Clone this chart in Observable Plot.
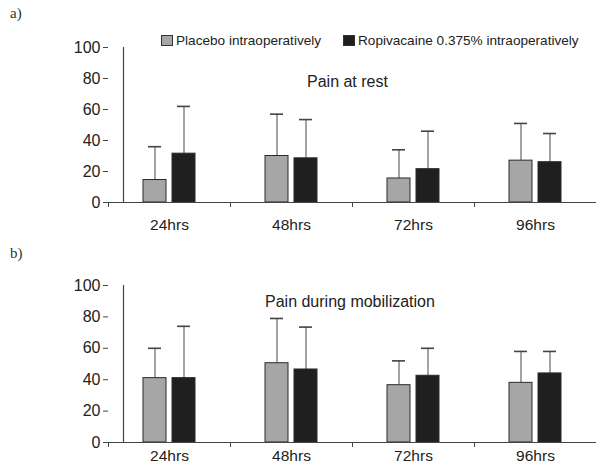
<!DOCTYPE html>
<html>
<head>
<meta charset="utf-8">
<script src="https://cdn.jsdelivr.net/npm/d3@7"></script>
<script src="https://cdn.jsdelivr.net/npm/@observablehq/plot@0.6"></script>
<style>
  body { margin: 0; background: #fff; }
  #wrap { position: relative; width: 599px; height: 469px; overflow: hidden; font-family: "Liberation Sans", Arial, sans-serif; color: #222; }
  .panel { position: absolute; left: 0; }
  .lbl { position: absolute; font-family: "Liberation Serif", "Times New Roman", serif; font-size: 15px; color: #333; }
  .title { position: absolute; font-size: 16px; color: #222; white-space: nowrap; }
  .legend { position: absolute; top: 33px; left: 161px; font-size: 13.6px; color: #222; white-space: nowrap; }
  .legend span.item { position: absolute; top: 0; white-space: nowrap; }
  .sw { display: inline-block; width: 10px; height: 9px; border: 1px solid #333; margin-right: 3px; vertical-align: -1px; }
</style>
</head>
<body>
<div id="wrap">
  <div class="lbl" style="left:10px;top:5px;">a)</div>
  <div class="lbl" style="left:10px;top:245px;">b)</div>
  <div id="pa" class="panel" style="top:0px;"></div>
  <div id="pb" class="panel" style="top:240px;"></div>
  <div class="legend">
    <span class="item" style="left:0px;"><span class="sw" style="background:#a6a6a6"></span>Placebo intraoperatively</span>
    <span class="item" style="left:182px;"><span class="sw" style="background:#1f1f1f"></span>Ropivacaine 0.375% intraoperatively</span>
  </div>
  <div class="title" style="left:307px;top:73px;">Pain at rest</div>
  <div class="title" style="left:265px;top:293px;">Pain during mobilization</div>
</div>
<script>
// ---- data ----
const times = ["24hrs", "48hrs", "72hrs", "96hrs"];
const groups = ["Placebo intraoperatively", "Ropivacaine 0.375% intraoperatively"];
const yTicks = [0, 20, 40, 60, 80, 100];

// a) Pain at rest: mean and SD (VAS 0-100 mm)
const restPlaceboMean = [14.5, 30, 15.5, 27];
const restPlaceboSD   = [21.5, 27, 18.5, 24];
const restRopiMean    = [31.5, 28.5, 21.5, 26];
const restRopiSD      = [30.5, 25, 24.5, 18.5];

// b) Pain during mobilization
const mobPlaceboMean = [41, 50.5, 36.5, 38];
const mobPlaceboSD   = [19, 28.5, 15.5, 20];
const mobRopiMean    = [41, 46.5, 42.5, 44];
const mobRopiSD      = [33, 27, 17.5, 14];

const colors = ["#a6a6a6", "#1f1f1f"];

function rows(pm, psd, rm, rsd) {
  const out = [];
  times.forEach((t, i) => {
    out.push({time: t, group: groups[0], mean: pm[i], top: pm[i] + psd[i]});
    out.push({time: t, group: groups[1], mean: rm[i], top: rm[i] + rsd[i]});
  });
  return out;
}

function panel(data, opts) {
  return Plot.plot({
    width: 599,
    height: opts.height,
    marginLeft: 107,
    marginRight: 2,
    marginTop: opts.marginTop,
    marginBottom: opts.marginBottom,
    style: {fontFamily: "'Liberation Sans', Arial, sans-serif", color: "#222", background: "transparent"},
    fx: {domain: times, padding: 0, label: null},
    x: {domain: groups, paddingInner: 0.21, paddingOuter: 1.2, axis: null},
    y: {domain: [0, 100], label: null},
    color: {domain: groups, range: colors},
    marks: [
      Plot.frame({anchor: "left", insetTop: opts.plotH, insetBottom: -4, stroke: "#444"}),
      Plot.ruleX(data, {fx: "time", x: "group", y1: "mean", y2: "top", stroke: "#666", strokeWidth: 1.2}),
      Plot.tickY(data, {fx: "time", x: "group", y: "top", stroke: "#444", strokeWidth: 1.6, insetLeft: 5, insetRight: 5}),
      Plot.barY(data, {fx: "time", x: "group", y: "mean", fill: "group", stroke: "#2a2a2a", strokeWidth: 1}),
      Plot.ruleY([0], {stroke: "#444", strokeWidth: 1.2}),
      Plot.axisY({ticks: yTicks, tickSize: 5, tickPadding: 3, fontSize: 16, label: null, stroke: "#444"}),
      Plot.ruleX([0], {x: () => groups[0], facetAnchor: "left", frameAnchor: "left", dx: -31.5, y1: 0, y2: 100, stroke: "#444", strokeWidth: 1.2}),
      Plot.axisFx({anchor: "bottom", tickSize: 0, tickPadding: opts.tickPadding, fontSize: 15.5, label: null})
    ]
  });
}

const dataA = rows(restPlaceboMean, restPlaceboSD, restRopiMean, restRopiSD);
const dataB = rows(mobPlaceboMean, mobPlaceboSD, mobRopiMean, mobRopiSD);

document.getElementById("pa").append(panel(dataA, {height: 240, marginTop: 47, marginBottom: 38, plotH: 155, tickPadding: 16}));
document.getElementById("pb").append(panel(dataB, {height: 229, marginTop: 45, marginBottom: 27, plotH: 157, tickPadding: 7}));
</script>
</body>
</html>
